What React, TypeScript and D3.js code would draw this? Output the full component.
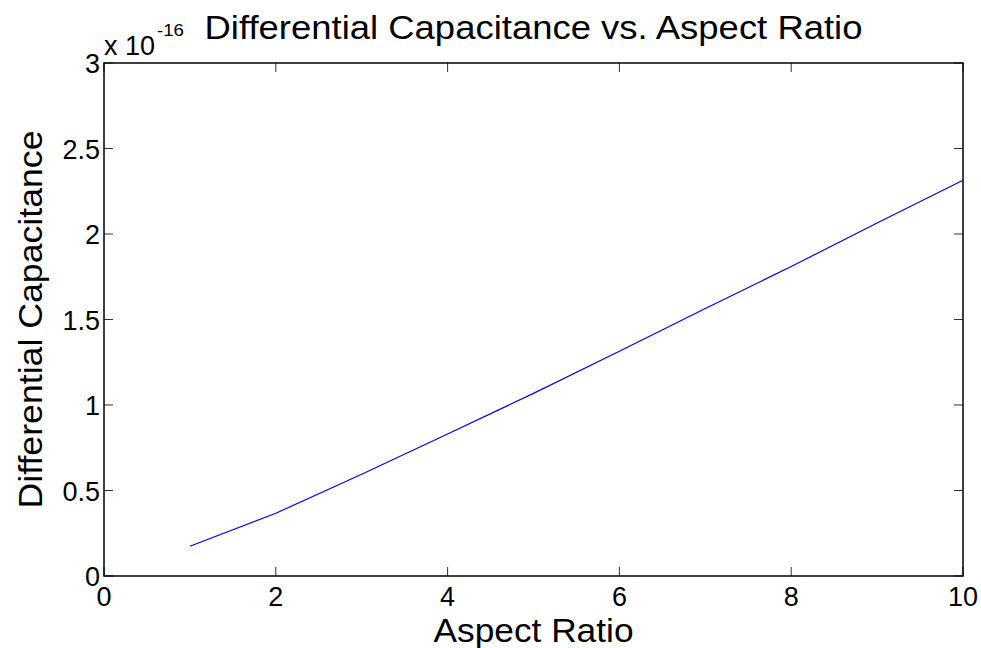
import React from "react";
import * as d3 from "d3";

// Aspect ratio samples and the differential capacitance at each (units of 1e-16)
const aspectRatio = [1, 2, 3, 4, 5, 6, 7, 8, 9, 10];
const capacitance = [0.174, 0.367, 0.595, 0.83, 1.068, 1.314, 1.564, 1.81, 2.064, 2.314];

const xTicks = [0, 2, 4, 6, 8, 10];
const yTicks = [0, 0.5, 1, 1.5, 2, 2.5, 3];

const titleText = "Differential Capacitance vs. Aspect Ratio";
const xLabelText = "Aspect Ratio";
const yLabelText = "Differential Capacitance";
const exponentText = "-16";

const W = 981;
const H = 648;
const margin = { left: 104, right: 18, top: 63, bottom: 72 };
const FONT = "'Liberation Sans', Arial, sans-serif";
const TICK = 9;

export default function App() {
  const x = d3
    .scaleLinear()
    .domain([0, 10])
    .range([margin.left, W - margin.right]);
  const y = d3
    .scaleLinear()
    .domain([0, 3])
    .range([H - margin.bottom, margin.top]);

  const line = d3
    .line<number>()
    .x((_, i) => x(aspectRatio[i]))
    .y((d) => y(d));

  const [x0, x1] = x.range();
  const [y0, y1] = y.range();
  const cx = (x0 + x1) / 2;
  const cy = (y0 + y1) / 2;

  return (
    <svg
      width={W}
      height={H}
      style={{ position: "absolute", left: 0, top: 0, background: "#fff" }}
      fontFamily={FONT}
    >
      <rect x={0} y={0} width={W} height={H} fill="#fff" />

      {/* inward ticks on all four sides */}
      {xTicks.map((t) => (
        <g key={"xt" + t} stroke="#333" strokeWidth={1}>
          <line x1={x(t)} x2={x(t)} y1={y0} y2={y0 - TICK} />
          <line x1={x(t)} x2={x(t)} y1={y1} y2={y1 + TICK} />
        </g>
      ))}
      {yTicks.map((t) => (
        <g key={"yt" + t} stroke="#333" strokeWidth={1}>
          <line x1={x0} x2={x0 + TICK} y1={y(t)} y2={y(t)} />
          <line x1={x1} x2={x1 - TICK} y1={y(t)} y2={y(t)} />
        </g>
      ))}

      {/* axes box */}
      <rect
        x={x0}
        y={y1}
        width={x1 - x0}
        height={y0 - y1}
        fill="none"
        stroke="#000"
        strokeWidth={1.5}
      />

      {/* data line */}
      <path
        d={line(capacitance) || ""}
        fill="none"
        stroke="#0000ff"
        strokeWidth={1.2}
      />

      {/* tick labels */}
      {xTicks.map((t) => (
        <text
          key={"xl" + t}
          x={x(t)}
          y={y0 + 30}
          textAnchor="middle"
          fontSize={27}
          fill="#000"
        >
          {t}
        </text>
      ))}
      {yTicks.map((t) => (
        <text
          key={"yl" + t}
          x={x0 - 4}
          y={y(t) + 10}
          textAnchor="end"
          fontSize={27}
          fill="#000"
        >
          {t}
        </text>
      ))}

      {/* exponent multiplier */}
      <text
        x={x0}
        y={55}
        fontSize={28}
        fill="#000"
        textLength={51}
        lengthAdjust="spacingAndGlyphs"
      >
        x 10
      </text>
      <text
        x={x0 + 53}
        y={36}
        fontSize={17}
        fill="#000"
        textLength={27}
        lengthAdjust="spacingAndGlyphs"
      >
        {exponentText}
      </text>

      {/* title and axis labels */}
      <text
        x={cx}
        y={39}
        textAnchor="middle"
        fontSize={33}
        fill="#000"
        textLength={658}
        lengthAdjust="spacingAndGlyphs"
      >
        {titleText}
      </text>
      <text
        x={cx}
        y={642}
        textAnchor="middle"
        fontSize={33}
        fill="#000"
        textLength={200}
        lengthAdjust="spacingAndGlyphs"
      >
        {xLabelText}
      </text>
      <text
        transform={`translate(42, ${cy}) rotate(-90)`}
        textAnchor="middle"
        fontSize={33}
        fill="#000"
        textLength={378}
        lengthAdjust="spacingAndGlyphs"
      >
        {yLabelText}
      </text>
    </svg>
  );
}
